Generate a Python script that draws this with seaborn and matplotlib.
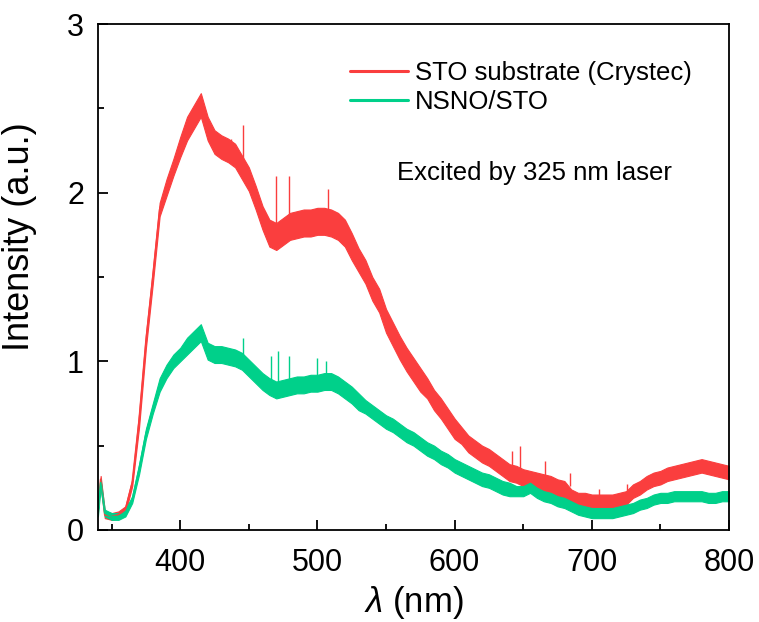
import numpy as np
import pandas as pd
import matplotlib
matplotlib.use("Agg")
import matplotlib.pyplot as plt
import seaborn as sns
from matplotlib.lines import Line2D

# ---------------- data ----------------
wavelength = [340, 342, 345, 350, 355, 360, 365, 370, 375, 380, 385, 390, 395,
              400, 405, 410, 415, 420, 425, 430, 435, 440, 445, 450, 455, 460,
              465, 470, 475, 480, 485, 490, 495, 500, 505, 510, 515, 520, 525,
              530, 535, 540, 545, 550, 555, 560, 565, 570, 575, 580, 585, 590,
              595, 600, 605, 610, 615, 620, 625, 630, 635, 640, 645, 650, 655,
              660, 665, 670, 675, 680, 685, 690, 695, 700, 705, 710, 715, 720,
              725, 730, 735, 740, 745, 750, 755, 760, 765, 770, 775, 780, 785,
              790, 795, 800]

sto = [0.12, 0.30, 0.09, 0.08, 0.09, 0.12, 0.28, 0.65, 1.12, 1.50, 1.90, 2.03, 2.15,
       2.27, 2.38, 2.45, 2.52, 2.38, 2.30, 2.27, 2.25, 2.22, 2.15, 2.08, 1.97, 1.85,
       1.76, 1.74, 1.77, 1.80, 1.81, 1.82, 1.82, 1.83, 1.83, 1.82, 1.80, 1.76, 1.68,
       1.60, 1.53, 1.43, 1.36, 1.24, 1.16, 1.08, 1.01, 0.95, 0.89, 0.84, 0.77, 0.72,
       0.66, 0.60, 0.56, 0.51, 0.48, 0.45, 0.43, 0.40, 0.37, 0.34, 0.33, 0.31, 0.30,
       0.29, 0.28, 0.27, 0.25, 0.24, 0.20, 0.18, 0.18, 0.17, 0.17, 0.17, 0.17, 0.18,
       0.19, 0.23, 0.25, 0.28, 0.30, 0.31, 0.33, 0.34, 0.35, 0.36, 0.37, 0.38, 0.37,
       0.36, 0.35, 0.34]

sto_noise = [0.02, 0.02, 0.02, 0.02, 0.02, 0.02, 0.02, 0.04, 0.04, 0.04, 0.04, 0.05, 0.05,
             0.06, 0.07, 0.07, 0.07, 0.07, 0.07, 0.07, 0.07, 0.07, 0.07, 0.07, 0.07, 0.07,
             0.08, 0.08, 0.08, 0.08, 0.08, 0.08, 0.08, 0.08, 0.08, 0.08, 0.08, 0.08, 0.08,
             0.07, 0.07, 0.07, 0.07, 0.07, 0.07, 0.07, 0.07, 0.07, 0.07, 0.06, 0.06, 0.06,
             0.06, 0.06, 0.05, 0.05, 0.05, 0.05, 0.05, 0.05, 0.05, 0.05, 0.05, 0.05, 0.05,
             0.05, 0.05, 0.05, 0.05, 0.05, 0.04, 0.04, 0.04, 0.04, 0.04, 0.04, 0.04, 0.04,
             0.04, 0.04, 0.04, 0.04, 0.04, 0.04, 0.04, 0.04, 0.04, 0.04, 0.04, 0.04, 0.04,
             0.04, 0.04, 0.04]

nsno = [0.10, 0.28, 0.10, 0.08, 0.08, 0.10, 0.18, 0.36, 0.57, 0.72, 0.86, 0.94, 1.00,
        1.04, 1.09, 1.13, 1.17, 1.06, 1.04, 1.04, 1.03, 1.02, 1.00, 0.96, 0.92, 0.88,
        0.85, 0.83, 0.84, 0.85, 0.86, 0.86, 0.87, 0.87, 0.88, 0.88, 0.86, 0.83, 0.80,
        0.76, 0.73, 0.70, 0.67, 0.64, 0.62, 0.59, 0.56, 0.54, 0.51, 0.48, 0.46, 0.43,
        0.41, 0.38, 0.36, 0.34, 0.32, 0.30, 0.29, 0.27, 0.25, 0.24, 0.23, 0.23, 0.25,
        0.22, 0.20, 0.19, 0.17, 0.16, 0.14, 0.12, 0.11, 0.10, 0.10, 0.10, 0.10, 0.11,
        0.12, 0.13, 0.15, 0.16, 0.18, 0.19, 0.19, 0.20, 0.20, 0.20, 0.20, 0.20, 0.19,
        0.19, 0.20, 0.20]

nsno_noise = [0.02, 0.02, 0.02, 0.02, 0.02, 0.02, 0.02, 0.03, 0.03, 0.03, 0.04, 0.04, 0.04,
              0.04, 0.05, 0.05, 0.05, 0.05, 0.05, 0.05, 0.05, 0.05, 0.05, 0.05, 0.05, 0.05,
              0.05, 0.05, 0.05, 0.05, 0.05, 0.05, 0.05, 0.05, 0.05, 0.05, 0.05, 0.05, 0.05,
              0.05, 0.04, 0.04, 0.04, 0.04, 0.04, 0.04, 0.04, 0.04, 0.04, 0.04, 0.04, 0.04,
              0.04, 0.04, 0.04, 0.04, 0.04, 0.04, 0.04, 0.04, 0.04, 0.04, 0.03, 0.03, 0.03,
              0.03, 0.03, 0.03, 0.03, 0.03, 0.03, 0.03, 0.03, 0.03, 0.03, 0.03, 0.03, 0.03,
              0.03, 0.03, 0.03, 0.03, 0.03, 0.03, 0.03, 0.03, 0.03, 0.03, 0.03, 0.03, 0.03,
              0.03, 0.03, 0.03]

# isolated noise spikes: position, lower end, upper end
sto_spike_x = [437, 446, 470, 479, 508, 642, 648, 666, 684, 705, 726]
sto_spike_lo = [2.25, 2.20, 1.80, 1.85, 1.88, 0.36, 0.36, 0.30, 0.26, 0.18, 0.19]
sto_spike_hi = [2.32, 2.40, 2.10, 2.10, 2.02, 0.47, 0.50, 0.41, 0.34, 0.24, 0.27]

nsno_spike_x = [446, 466, 471, 479, 500, 506]
nsno_spike_lo = [1.00, 0.88, 0.88, 0.88, 0.90, 0.90]
nsno_spike_hi = [1.14, 1.03, 1.06, 1.03, 1.02, 1.00]

series_names = ["STO substrate (Crystec)", "NSNO/STO"]
x_ticks = [400, 500, 600, 700, 800]
y_ticks = [0, 1, 2, 3]

RED = "#FA3E3E"
GREEN = "#00D08A"

# ---------------- styling ----------------
sns.set_theme(style="ticks")
plt.rcParams["font.family"] = ["Liberation Sans", "DejaVu Sans"]
plt.rcParams["mathtext.fontset"] = "custom"
plt.rcParams["mathtext.it"] = "Liberation Sans:italic"
plt.rcParams["mathtext.rm"] = "Liberation Sans"
plt.rcParams["text.color"] = "black"
plt.rcParams["axes.labelcolor"] = "black"
plt.rcParams["xtick.color"] = "black"
plt.rcParams["ytick.color"] = "black"

fig = plt.figure(figsize=(7.59, 6.22), dpi=100)
ax = fig.add_axes([0.129, 0.148, 0.8315, 0.8134])

df = pd.DataFrame({
    "wavelength": wavelength * 2,
    "intensity": sto + nsno,
    "sample": [series_names[0]] * len(sto) + [series_names[1]] * len(nsno),
})

sns.lineplot(data=df, x="wavelength", y="intensity", hue="sample",
             palette=[RED, GREEN], linewidth=1.2, ax=ax, legend=False,
             estimator=None, sort=False)

wl = np.array(wavelength)
for vals, noise, col in [(sto, sto_noise, RED), (nsno, nsno_noise, GREEN)]:
    v = np.array(vals)
    n = np.array(noise)
    ax.fill_between(wl, v - n, v + n, color=col, linewidth=0.8, edgecolor=col)

ax.vlines(sto_spike_x, sto_spike_lo, sto_spike_hi, color=RED, linewidth=1.0)
ax.vlines(nsno_spike_x, nsno_spike_lo, nsno_spike_hi, color=GREEN, linewidth=1.0)

ax.set_xlim(340, 800)
ax.set_ylim(0, 3)
ax.set_xticks(x_ticks)
ax.set_yticks(y_ticks)
ax.set_xticks([350, 450, 550, 650, 750], minor=True)
ax.set_yticks([0.5, 1.5, 2.5], minor=True)

for s in ax.spines.values():
    s.set_linewidth(1.3)
    s.set_color("black")
ax.tick_params(which="major", direction="in", length=7, width=1.3,
               labelsize=22, top=False, right=False, colors="black")
ax.tick_params(axis="x", which="major", pad=13)
ax.tick_params(axis="y", which="major", pad=10)
ax.tick_params(which="minor", direction="in", length=4, width=1.3,
               top=False, right=False)

ax.set_xlabel(r"$\lambda$ (nm)", fontsize=25, labelpad=4)
ax.set_ylabel("Intensity (a.u.)", fontsize=26)
ax.yaxis.set_label_coords(-0.097, 0.58)

handles = [Line2D([], [], color=RED, linewidth=2.2),
           Line2D([], [], color=GREEN, linewidth=2.2)]
ax.legend(handles, series_names, loc="upper left", bbox_to_anchor=(0.40, 0.927),
          frameon=False, fontsize=18.5, handlelength=2.25, handletextpad=0.28,
          labelspacing=0.2, borderpad=0, borderaxespad=0)

ax.text(0.474, 0.706, "Excited by 325 nm laser", transform=ax.transAxes,
        fontsize=18.5, va="center", ha="left")

fig.savefig("out.png", dpi=100)
